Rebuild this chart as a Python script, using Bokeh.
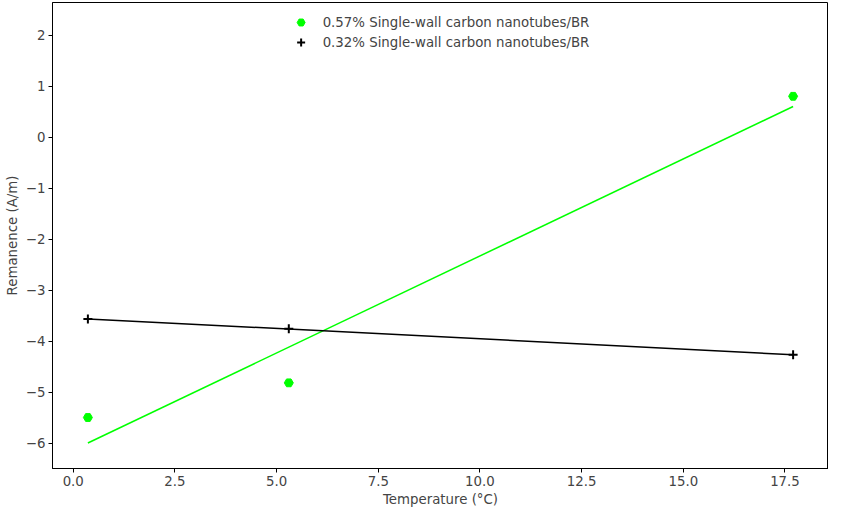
import numpy as np
from bokeh.plotting import figure
from bokeh.models import Range1d, Legend, LegendItem, SingleIntervalTicker, PrintfTickFormatter
from bokeh.embed import file_html
from bokeh.resources import INLINE

temperature = [0.36, 5.3, 17.7]
rem_057 = [-5.5, -4.82, 0.8]
rem_032 = [-3.57, -3.76, -4.27]

p = figure(width=828, height=509, output_backend="svg", toolbar_location=None,
           x_range=Range1d(-0.51, 18.57), y_range=Range1d(-6.5, 2.64),
           x_axis_label="Temperature (°C)", y_axis_label="Remanence (A/m)")
p.min_border_left = 52
p.min_border_right = 0
p.min_border_top = 2
p.min_border_bottom = 30
p.grid.visible = False
p.outline_line_color = "black"
p.xaxis.ticker = SingleIntervalTicker(interval=2.5)
p.yaxis.ticker = SingleIntervalTicker(interval=1)
p.xaxis.formatter = PrintfTickFormatter(format="%.1f")
for ax in (p.xaxis, p.yaxis):
    ax.major_label_text_font = "DejaVu Sans"
    ax.major_label_text_font_size = "10pt"
    ax.axis_label_text_font = "DejaVu Sans"
    ax.axis_label_text_font_size = "10pt"
    ax.axis_label_text_font_style = "normal"
    ax.minor_tick_line_color = None
    ax.major_tick_out = 4
    ax.major_tick_in = 0
    ax.major_label_standoff = 3
    ax.axis_label_standoff = 3

xs = np.array(temperature)
ends = np.array([xs.min(), xs.max()])
k1, b1 = np.polyfit(xs, rem_057, 1)
k2, b2 = np.polyfit(xs, rem_032, 1)

r1 = p.scatter(temperature, rem_057, marker="hex", size=9, color="#00ff00")
p.line(ends, k1 * ends + b1, color="#00ff00", line_width=1.5)
r2 = p.scatter(temperature, rem_032, marker="cross", size=9, line_width=2, color="black")
p.line(ends, k2 * ends + b2, color="black", line_width=1.5)

legend = Legend(items=[LegendItem(label="0.57% Single-wall carbon nanotubes/BR", renderers=[r1]),
                       LegendItem(label="0.32% Single-wall carbon nanotubes/BR", renderers=[r2])],
                location="top_center", border_line_color=None, background_fill_alpha=0,
                label_text_font="DejaVu Sans", label_text_font_size="10pt",
                spacing=0, padding=4, glyph_width=20, label_standoff=12)
p.add_layout(legend)

open("out.html", "w").write(file_html(p, INLINE))
